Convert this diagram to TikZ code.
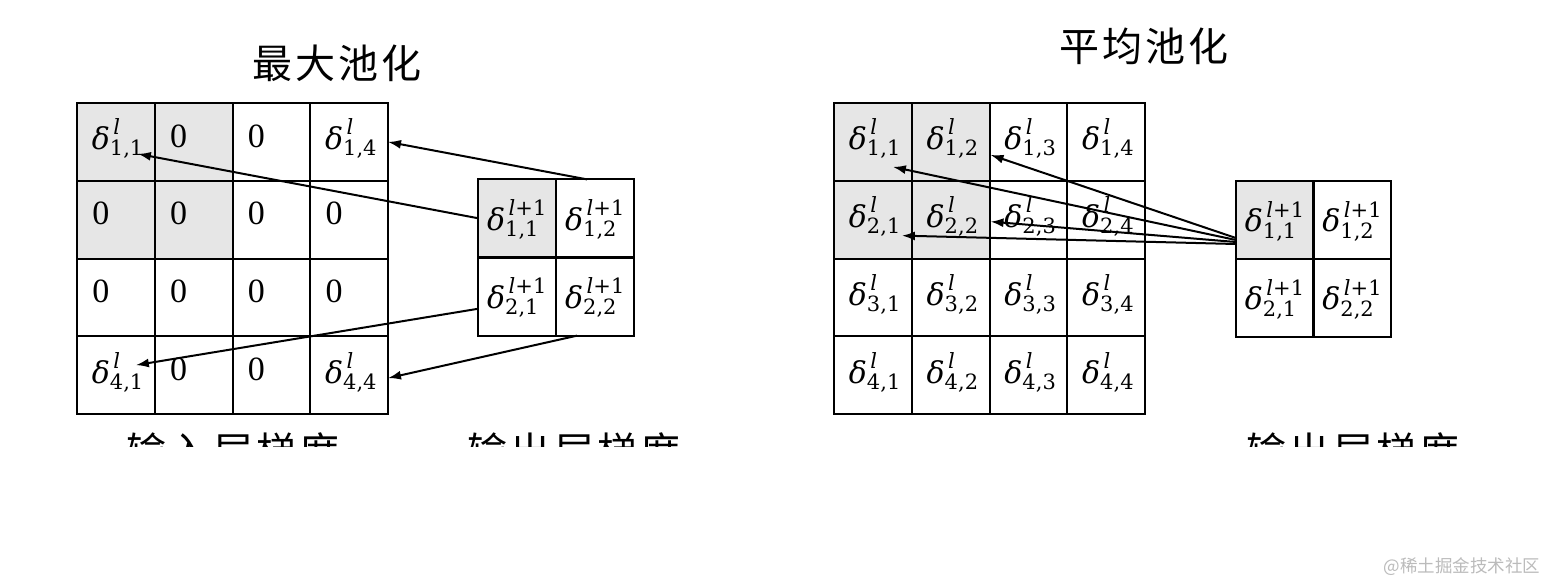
\documentclass[tikz,border=0pt]{standalone}
\usepackage{amsmath}
\usepackage{fontspec}
\setmainfont{Liberation Serif}
\newfontfamily\mathlike{DejaVu Serif}
\newfontfamily\cjk[LetterSpace=8]{Noto Sans CJK SC}
\newfontfamily\cjkmark{Noto Sans CJK SC}
\usetikzlibrary{arrows.meta,calc}
\pgfdeclarelayer{background}
\pgfsetlayers{background,main}
\definecolor{cellgray}{HTML}{E6E6E6}
\definecolor{markgray}{HTML}{BBBBBB}
\newcommand{\dlt}[2]{$\text{\itshape δ}^{\text{\itshape\,l}}_{\text{#1,#2}}$}
\newcommand{\dltp}[2]{$\text{\itshape δ}^{\text{\itshape\,l}\text{+1}}_{\text{#1,#2}}$}
\tikzset{
  cellbox/.style={draw, line width=2pt, minimum size=77.75pt, inner sep=0pt, outer sep=0pt},
  zero/.style={inner sep=0pt, font=\fontsize{34}{40}\selectfont},
  delta/.style={inner sep=0pt, font=\mathlike\fontsize{30}{36}\selectfont},
  title/.style={inner sep=0pt, anchor=base, font=\cjk\fontsize{40}{46}\selectfont},
  conn/.style={line width=2pt, -{Latex[length=13pt,width=9pt]}}
}
\begin{document}
\begin{tikzpicture}[x=1pt,y=-1pt]
\useasboundingbox (0,0) rectangle (1548,582);

% ---------- left: max pooling ----------
\foreach \r in {1,...,4}{
  \foreach \c in {1,...,4}{
    \node[cellbox] (L-\r-\c) at ({77+77.75*(\c-0.5)},{103+77.75*(\r-0.5)}) {};
  }
}
\foreach \r in {1,2}{
  \foreach \c in {1,2}{
    \node[cellbox] (LS-\r-\c) at ({478+78*(\c-0.5)},{179+78.5*(\r-0.5)}) {};
  }
}
% ---------- right: average pooling ----------
\foreach \r in {1,...,4}{
  \foreach \c in {1,...,4}{
    \node[cellbox] (R-\r-\c) at ({834+77.75*(\c-0.5)},{103+77.75*(\r-0.5)}) {};
    \node[delta] (RT-\r-\c) at ($(R-\r-\c.center)+(2,-3)$) {\dlt{\r}{\c}};
  }
}
\foreach \r in {1,2}{
  \foreach \c in {1,2}{
    \node[cellbox] (RS-\r-\c) at ({1236+77.5*(\c-0.5)},{181+78*(\r-0.5)}) {};
    \node[delta] (RST-\r-\c) at ($(RS-\r-\c.center)+(0,1)$) {\dltp{\r}{\c}};
    \node[delta] (LST-\r-\c) at ($(LS-\r-\c.center)+(0,1)$) {\dltp{\r}{\c}};
  }
}

\begin{pgfonlayer}{background}
  \fill[white] (0,0) rectangle (1548,582);
  \fill[cellgray] (L-1-1.north west) rectangle (L-2-2.south east);
  \fill[cellgray] (LS-1-1.north west) rectangle (LS-1-1.south east);
  \fill[cellgray] (R-1-1.north west) rectangle (R-2-2.south east);
  \fill[cellgray] (RS-1-1.north west) rectangle (RS-1-1.south east);
\end{pgfonlayer}

% left grid contents
\node[delta] (LT-1-1) at ($(L-1-1.center)+(2,-3)$) {\dlt{1}{1}};
\node[delta] (LT-1-4) at ($(L-1-4.center)+(2,-3)$) {\dlt{1}{4}};
\node[delta] (LT-4-1) at ($(L-4-1.center)+(2,-3)$) {\dlt{4}{1}};
\node[delta] (LT-4-4) at ($(L-4-4.center)+(2,-3)$) {\dlt{4}{4}};
\foreach \r/\c in {1/2,1/3,2/1,2/2,2/3,2/4,3/1,3/2,3/3,3/4,4/2,4/3}{
  \node[zero] (LZ-\r-\c) at ($(L-\r-\c.center)+(-15,-6)$) {0};
}

% titles
\node[title] (T1) at (337,78) {最大池化};
\node[title] (T2) at (1144,61.5) {平均池化};

% bottom labels, cut off as in the reference
\begin{scope}
  \clip (0,0) rectangle (1548,446);
  \node[title] (B1) at (233,466) {输入层梯度};
  \node[title] (B2) at (574,466) {输出层梯度};
  \node[title] (B3) at (1353,466) {输出层梯度};
\end{scope}

% connectors: max pooling
\draw[conn] (LS-1-1.west) -- ($(L-1-1.center)+(22,12)$);
\draw[conn] ($(LS-1-2.north)+(-8,0)$) -- (L-1-4.east);
\draw[conn] ($(LS-2-1.west)+(0,12)$) -- ($(L-4-1.center)+(20,-10)$);
\draw[conn] ($(LS-2-2.south west)+(21,0)$) -- ($(L-4-4.east)+(0,3)$);

% connectors: average pooling
\draw[conn] ($(RS-1-1.west)+(0,18)$) -- ($(R-1-2.east)+(1,13)$);
\draw[conn] ($(RS-1-1.west)+(0,20)$) -- ($(R-1-1.center)+(20,25)$);
\draw[conn] ($(RS-1-1.west)+(0,22)$) -- ($(R-2-2.east)+(1,2)$);
\draw[conn] ($(RS-1-1.west)+(0,24)$) -- ($(R-2-1.center)+(29,16)$);

% watermark
\node[inner sep=0pt, anchor=base, text=markgray, font=\cjkmark\fontsize{17.5}{20}\selectfont] (WM) at (1462,572) {@稀土掘金技术社区};
\end{tikzpicture}
\end{document}
